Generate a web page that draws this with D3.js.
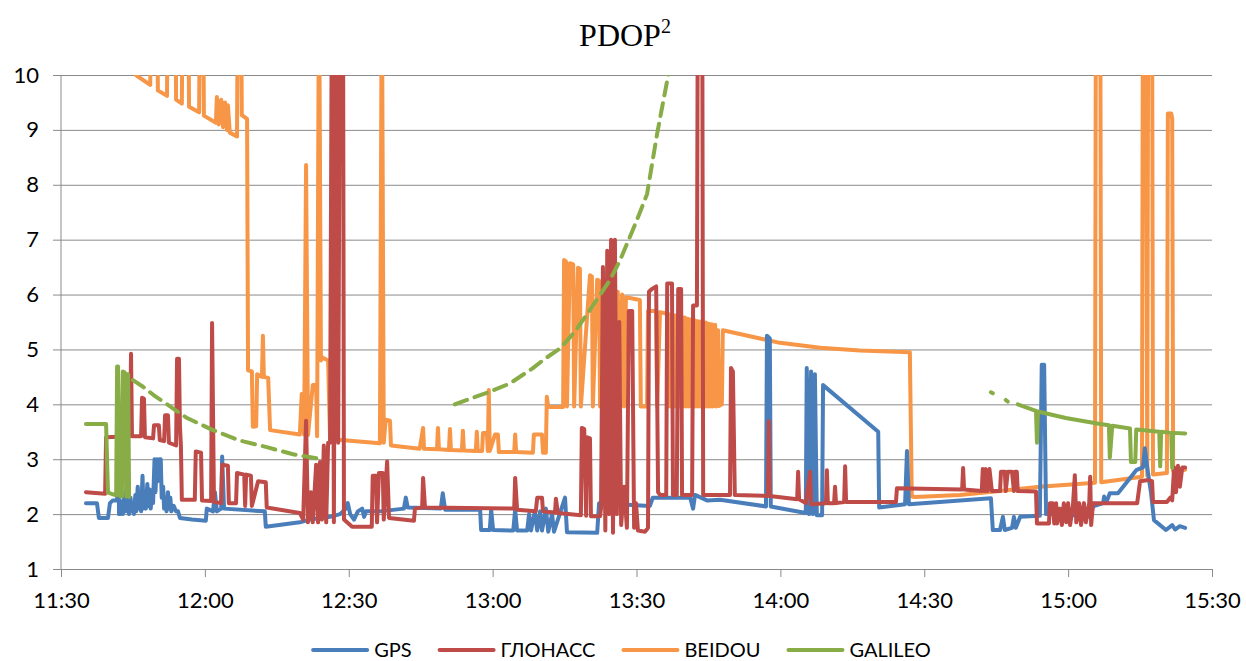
<!DOCTYPE html>
<html>
<head>
<meta charset="utf-8">
<script src="https://cdn.jsdelivr.net/npm/d3@7"></script>
<style>
  body { margin: 0; background: #fff; }
  svg text { font-family: Lato, "Open Sans", sans-serif; fill: #000; }
</style>
</head>
<body>
<svg id="chart" width="1246" height="661"></svg>
<script>
// time is "H:MM.m" (minutes with one decimal), value is PDOP^2
// values above 10 run off the top of the plot and get clipped
var gps = [
  ["11:35.2",2.20],["11:37.5",2.20],["11:37.9",1.93],["11:39.8",1.93],["11:40.2",2.20],["11:40.8",2.25],
  ["11:41.7",2.25],["11:41.9",3.70],["11:42.1",2.00],["11:42.3",2.25],["11:42.5",2.00],["11:42.7",2.15],
  ["11:42.9",2.00],["11:43.2",2.35],["11:43.4",2.05],["11:43.6",2.45],["11:43.8",2.05],["11:44.0",2.25],
  ["11:44.2",2.00],["11:44.5",2.30],["11:44.7",2.05],["11:45.0",2.15],["11:45.2",2.00],["11:45.5",2.35],
  ["11:45.7",2.05],["11:46.0",2.50],["11:46.2",2.10],["11:46.5",2.25],["11:46.7",2.05],["11:47.0",2.70],
  ["11:47.2",2.10],["11:47.5",2.40],["11:47.7",2.10],["11:48.0",2.55],["11:48.2",2.15],["11:48.5",2.45],
  ["11:48.7",2.10],["11:49.0",2.35],["11:49.2",2.20],["11:49.5",3.00],["11:49.7",2.40],["11:50.0",3.00],
  ["11:50.2",2.60],["11:50.5",3.00],["11:50.8",3.00],["11:51.0",2.30],["11:51.3",2.50],["11:51.5",2.10],
  ["11:51.8",2.30],["11:52.0",2.05],["11:52.3",2.40],["11:52.5",2.10],["11:52.8",2.30],["11:53.0",2.05],
  ["11:53.5",2.15],["11:54.0",2.05],["11:54.4",2.05],["11:54.8",1.93],["11:57.3",1.90],["12:00.2",1.88],
  ["12:00.4",2.10],["12:01.7",2.05],["12:02.1",2.40],["12:02.5",2.05],["12:03.4",2.10],["12:03.6",3.05],
  ["12:04.0",2.10],["12:12.5",2.05],["12:12.7",1.77],["12:19.8",1.85],["12:21.9",1.90],["12:26.1",1.95],
  ["12:28.2",2.00],["12:29.4",2.10],["12:29.8",2.20],["12:30.3",2.00],["12:31.1",1.90],["12:31.9",2.05],
  ["12:32.8",2.10],["12:33.2",1.95],["12:33.6",2.05],["12:36.5",2.05],["12:41.5",2.10],["12:41.9",2.30],
  ["12:42.3",2.12],["12:49.2",2.10],["12:49.6",2.38],["12:50.1",2.08],["12:57.4",2.08],["12:57.6",1.71],
  ["12:59.4",1.71],["12:59.7",2.08],["13:00.1",1.71],["13:04.3",1.70],["13:04.7",2.08],["13:05.1",1.70],
  ["13:07.2",1.70],["13:07.6",2.00],["13:08.0",1.70],["13:08.8",2.05],["13:09.3",1.70],["13:09.9",2.05],
  ["13:10.3",1.70],["13:11.1",2.10],["13:11.6",1.68],["13:12.4",2.00],["13:12.8",1.68],["13:15.1",2.30],
  ["13:15.5",1.67],["13:21.8",1.66],["13:22.2",2.20],["13:32.8",2.15],["13:33.4",2.30],["13:41.2",2.30],
  ["13:41.8",2.10],["13:42.2",2.35],["13:44.7",2.25],["13:47.4",2.26],["13:57.0",2.14],["13:57.2",5.25],
  ["13:57.8",5.20],["13:58.0",2.14],["14:05.3",2.02],["14:05.5",4.66],["14:06.0",2.00],["14:06.4",4.60],
  ["14:06.8",2.00],["14:07.2",4.55],["14:07.6",1.98],["14:08.7",1.98],["14:08.9",4.35],["14:20.4",3.50],
  ["14:20.6",2.12],["14:26.0",2.18],["14:26.4",3.15],["14:26.8",2.18],["14:43.9",2.29],["14:44.3",1.71],
  ["14:45.8",1.71],["14:46.4",1.95],["14:46.8",1.71],["14:48.3",1.75],["14:48.7",1.95],["14:49.1",1.75],
  ["14:50.0",1.95],["14:54.1",1.97],["14:54.5",4.72],["14:55.0",4.72],["14:55.4",2.00],["14:58.3",2.00],
  ["15:04.6",1.95],["15:05.2",2.14],["15:07.3",2.20],["15:07.5",2.32],["15:07.9",2.20],["15:08.7",2.38],
  ["15:10.4",2.38],["15:14.2",2.80],["15:15.6",2.85],["15:16.0",3.20],["15:16.5",2.85],["15:17.3",2.38],
  ["15:17.9",1.89],["15:20.4",1.71],["15:21.7",1.80],["15:22.3",1.72],["15:23.3",1.78],["15:24.4",1.75]
];

var glonass = [
  ["11:35.2",2.40],["11:39.2",2.37],["11:39.4",3.40],["11:44.4",3.42],["11:44.6",4.92],["11:44.8",3.42],
  ["11:46.7",3.42],["11:46.9",4.12],["11:47.3",4.10],["11:47.5",3.40],["11:49.2",3.38],["11:49.4",3.62],
  ["11:50.4",3.62],["11:50.6",3.35],["11:51.5",3.33],["11:51.7",3.80],["11:52.3",3.80],["11:52.5",3.30],
  ["11:54.0",3.25],["11:54.2",4.83],["11:54.6",4.83],["11:54.8",3.60],["11:55.0",3.25],["11:55.2",2.26],
  ["11:57.9",2.26],["11:58.1",3.14],["11:59.2",3.12],["11:59.4",2.25],["12:01.3",2.24],["12:01.5",5.48],
  ["12:01.9",2.22],["12:03.4",2.20],["12:03.6",2.90],["12:04.8",2.88],["12:05.0",2.20],["12:06.5",2.20],
  ["12:06.7",2.75],["12:08.2",2.72],["12:08.4",2.15],["12:08.6",2.72],["12:09.6",2.70],["12:09.8",2.15],
  ["12:11.1",2.60],["12:12.7",2.58],["12:12.9",2.12],["12:19.8",2.02],["12:20.5",1.90],["12:21.1",3.70],
  ["12:21.5",1.85],["12:22.1",2.40],["12:22.5",1.85],["12:23.2",2.90],["12:23.6",1.85],["12:24.0",2.95],
  ["12:24.4",1.90],["12:24.8",3.25],["12:25.3",1.85],["12:25.7",3.30],["12:26.1",3.30],["12:26.5",12],
  ["12:26.9",1.85],["12:27.3",12],["12:27.8",3.30],["12:28.2",12],["12:28.8",12],["12:29.0",1.90],
  ["12:30.7",1.77],["12:34.8",1.77],["12:35.0",2.70],["12:35.7",2.70],["12:35.9",1.85],["12:36.3",2.75],
  ["12:37.1",2.75],["12:37.3",1.90],["12:38.0",2.96],["12:38.4",1.93],["12:43.6",1.88],["12:43.8",2.10],
  ["12:45.3",2.12],["12:45.5",2.66],["12:45.9",2.12],["13:04.5",2.10],["13:04.7",2.66],["13:05.1",2.08],
  ["13:09.0",2.05],["13:09.3",2.30],["13:10.3",2.30],["13:10.5",2.05],["13:13.0",2.03],["13:13.2",2.28],
  ["13:13.6",2.02],["13:18.4",1.98],["13:18.6",3.57],["13:19.1",3.55],["13:19.5",1.97],["13:19.7",3.40],
  ["13:20.3",3.38],["13:20.5",1.96],["13:22.4",1.96],["13:22.6",2.10],["13:23.0",6.50],["13:23.5",1.70],
  ["13:23.9",6.80],["13:24.3",2.00],["13:24.7",7.00],["13:25.1",1.66],["13:25.5",7.00],["13:25.9",2.00],
  ["13:26.4",5.50],["13:26.8",1.80],["13:27.4",2.50],["13:28.0",1.75],["13:28.4",5.70],["13:29.1",5.70],
  ["13:29.5",1.75],["13:29.9",2.20],["13:30.3",1.70],["13:31.8",1.68],["13:32.4",1.75],["13:32.6",6.05],
  ["13:33.2",6.10],["13:34.1",6.15],["13:34.5",2.40],["13:34.9",2.35],["13:36.2",2.35],["13:36.4",6.20],
  ["13:37.4",6.20],["13:37.6",2.35],["13:38.4",2.35],["13:38.7",6.10],["13:39.3",6.10],["13:39.5",2.35],
  ["13:41.6",2.35],["13:41.8",5.80],["13:42.6",5.80],["13:42.8",12],["13:43.7",12],["13:43.9",2.35],
  ["13:49.5",2.35],["13:49.7",4.66],["13:50.1",4.60],["13:50.5",2.35],["13:57.4",2.33],["13:57.6",3.69],
  ["13:57.8",2.33],["14:03.5",2.27],["14:03.7",2.77],["14:03.9",2.27],["14:05.3",2.20],["14:06.2",2.77],
  ["14:06.4",2.18],["14:09.5",2.20],["14:09.7",2.80],["14:09.9",2.20],["14:11.2",2.20],["14:11.4",2.50],
  ["14:11.6",2.20],["14:13.3",2.22],["14:13.5",2.87],["14:13.7",2.22],["14:24.1",2.22],["14:24.3",2.47],
  ["14:37.9",2.45],["14:38.1",2.84],["14:38.3",2.45],["14:42.0",2.42],["14:42.2",2.82],["14:42.6",2.42],
  ["14:42.8",2.82],["14:43.2",2.42],["14:43.6",2.82],["14:44.1",2.42],["14:45.8",2.42],["14:46.0",2.77],
  ["14:46.8",2.77],["14:47.0",2.42],["14:47.4",2.77],["14:48.3",2.77],["14:48.7",2.42],["14:48.9",2.77],
  ["14:49.3",2.77],["14:49.5",2.42],["14:53.3",2.41],["14:53.5",1.83],["14:56.0",1.83],["14:56.2",2.20],
  ["14:56.8",2.20],["14:57.1",1.83],["14:57.5",2.20],["14:57.7",1.83],["14:58.3",2.10],["14:58.7",1.80],
  ["14:59.1",2.20],["14:59.6",1.85],["15:00.0",2.20],["15:00.4",1.80],["15:01.0",2.15],["15:01.4",2.71],
  ["15:01.7",1.85],["15:02.3",2.20],["15:02.7",1.80],["15:03.3",2.20],["15:03.7",1.85],["15:04.4",2.20],
  ["15:04.6",2.68],["15:04.8",1.80],["15:05.2",2.20],["15:14.4",2.20],["15:15.0",2.60],["15:16.7",2.62],
  ["15:17.5",2.60],["15:17.7",2.22],["15:20.6",2.22],["15:21.3",2.30],["15:21.7",2.25],["15:22.1",2.85],
  ["15:22.5",2.40],["15:22.9",2.88],["15:23.3",2.50],["15:23.8",2.85],["15:24.4",2.85]
];

var beidou = [
  ["11:45.6",10.0],["11:48.6",9.82],["11:49.0",12],["11:50.0",12],["11:50.2",9.72],["11:52.1",9.62],
  ["11:52.3",12],["11:53.8",12],["11:54.0",9.55],["11:55.2",9.48],["11:55.4",12],["11:56.5",12],
  ["11:56.7",9.42],["11:58.8",9.32],["11:59.0",12],["11:59.6",12],["11:59.8",9.26],["12:02.3",9.13],
  ["12:02.5",9.60],["12:02.9",9.10],["12:03.4",9.55],["12:03.8",9.05],["12:04.2",9.50],["12:04.6",9.00],
  ["12:04.8",9.45],["12:05.2",8.95],["12:06.7",8.88],["12:06.9",12],["12:07.5",12],["12:07.7",9.27],
  ["12:08.8",9.20],["12:09.0",4.62],["12:09.8",4.60],["12:10.0",3.59],["12:10.7",3.60],["12:10.9",4.55],
  ["12:11.9",4.50],["12:12.1",5.25],["12:12.3",4.50],["12:13.2",4.48],["12:13.6",3.53],["12:19.8",3.45],
  ["12:20.2",4.19],["12:20.7",3.45],["12:21.1",8.36],["12:21.5",3.44],["12:22.5",4.35],["12:23.2",4.35],
  ["12:23.4",3.42],["12:23.8",12],["12:24.2",4.80],["12:24.6",4.85],["12:25.7",4.80],["12:26.1",3.40],
  ["12:26.7",4.60],["12:27.1",3.36],["12:36.5",3.29],["12:36.9",12],["12:37.3",3.30],["12:37.7",3.72],
  ["12:38.6",3.70],["12:38.8",3.25],["12:44.8",3.19],["12:45.5",3.57],["12:45.7",3.19],["12:48.4",3.18],
  ["12:48.6",3.57],["12:48.8",3.18],["12:50.9",3.17],["12:51.1",3.55],["12:51.3",3.17],["12:53.6",3.16],
  ["12:53.8",3.52],["12:54.0",3.16],["12:56.5",3.15],["12:56.7",3.50],["12:56.9",3.15],["12:57.8",3.15],
  ["12:58.0",3.48],["12:58.8",3.48],["12:59.0",3.15],["12:59.2",4.26],["12:59.4",3.15],["13:00.5",3.45],
  ["13:01.1",3.45],["13:01.3",3.13],["13:04.5",3.13],["13:04.7",3.45],["13:04.9",3.13],["13:08.4",3.12],
  ["13:08.6",3.45],["13:10.3",3.45],["13:10.5",3.12],["13:11.1",3.12],["13:11.3",4.14],["13:11.6",3.95],
  ["13:14.7",3.95],["13:14.9",6.63],["13:15.3",6.60],["13:15.5",3.96],["13:16.1",6.57],["13:16.8",6.55],
  ["13:17.0",3.96],["13:17.8",6.49],["13:18.2",6.47],["13:18.4",3.96],["13:20.3",6.35],["13:20.7",6.33],
  ["13:20.9",3.96],["13:21.8",6.27],["13:22.2",6.25],["13:22.4",3.96],["13:23.0",6.17],["13:23.9",6.15],
  ["13:24.1",3.96],["13:24.5",6.10],["13:26.1",6.05],["13:26.3",3.96],["13:27.0",6.00],["13:27.4",3.96],
  ["13:27.8",5.95],["13:30.7",5.90],["13:30.9",3.96],["13:32.2",3.96],["13:32.4",5.70],["13:34.1",5.70],
  ["13:34.3",3.96],["13:34.9",5.68],["13:36.4",5.65],["13:36.6",3.96],["13:37.0",5.64],["13:37.2",3.96],
  ["13:37.6",5.63],["13:37.8",3.96],["13:38.2",5.62],["13:38.4",3.96],["13:38.9",5.60],["13:39.1",3.96],
  ["13:39.5",5.59],["13:39.7",3.96],["13:40.1",5.58],["13:40.3",3.96],["13:40.7",5.56],["13:40.9",3.96],
  ["13:41.4",5.55],["13:41.6",3.96],["13:42.0",5.54],["13:42.2",3.96],["13:42.6",5.52],["13:42.8",3.96],
  ["13:43.2",5.51],["13:43.4",3.96],["13:43.9",5.50],["13:44.1",3.96],["13:44.5",5.49],["13:44.7",3.96],
  ["13:45.1",5.47],["13:45.3",3.96],["13:45.7",5.46],["13:45.9",3.96],["13:46.4",5.45],["13:46.6",3.96],
  ["13:47.0",5.35],["13:47.2",3.97],["13:47.8",4.00],["13:48.0",5.35],["13:59.9",5.12],["14:08.3",5.03],
  ["14:16.6",4.98],["14:27.0",4.95],["14:27.4",2.32],["14:28.1",2.31],["14:37.4",2.35],["14:45.8",2.42],
  ["14:54.1",2.50],["15:05.6",2.57],["15:05.8",12],["15:06.7",12],["15:06.9",2.58],["15:15.4",2.68],
  ["15:15.6",12],["15:16.2",12],["15:16.5",2.70],["15:16.7",12],["15:17.5",12],["15:17.7",2.72],
  ["15:20.6",2.75],["15:20.8",9.30],["15:21.5",9.30],["15:21.7",9.20],["15:21.9",2.78],["15:24.4",2.81]
];

// GALILEO: continuous stretches, null = no data
var galileo = [
  ["11:35.2",3.64],["11:39.4",3.64],["11:39.8",2.39],["11:41.5",2.34],["11:41.7",4.69],["11:41.9",4.69],
  ["11:42.3",2.33],["11:42.7",2.32],["11:42.9",4.60],["11:43.3",4.58],["11:43.6",2.32],["11:43.8",4.55],
  ["11:44.0",4.55],["11:44.2",2.31],["11:44.3",null],
  ["14:43.9",4.22],["14:44.3",4.20],["14:44.5",null],["14:47.0",4.08],["14:47.4",4.05],["14:47.6",null],
  ["14:49.5",4.00],["14:52.7",3.90],["14:53.3",3.88],["14:53.5",3.30],["14:53.7",3.87],["14:59.5",3.75],
  ["15:06.7",3.64],["15:08.5",3.62],["15:08.7",3.03],["15:09.2",3.61],["15:12.9",3.56],["15:13.1",2.95],
  ["15:14.0",2.95],["15:14.2",3.54],["15:19.0",3.50],["15:19.2",2.87],["15:19.4",3.50],["15:21.5",3.48],
  ["15:21.7",2.84],["15:21.9",3.48],["15:24.4",3.47]
];
// GALILEO stretches with frequent dropouts (drawn broken)
var galileoSparse = [
  ["11:45.0",4.44],["11:47.1",4.32],["11:49.6",4.15],["11:52.1",4.00],["11:56.3",3.75],["12:01.7",3.53],
  ["12:07.3",3.34],["12:12.9",3.22],["12:18.4",3.09],["12:24.4",3.00],["12:30.0",null],
  ["12:52.1",4.00],["12:59.4",4.23],["13:03.6",4.38],["13:08.4",4.66],["13:10.9",4.83],["13:14.1",5.02],
  ["13:17.2",5.33],["13:20.3",5.72],["13:24.5",6.27],["13:26.6",6.63],["13:30.1",7.36],["13:32.2",7.83],
  ["13:34.3",8.93],["13:36.4",9.90],["13:37.0",10.2]
];

var seriesNames = ["GPS", "ГЛОНАСС", "BEIDOU", "GALILEO"];
var seriesColors = ["#4A7EBB", "#BE4B48", "#F79646", "#88AC46"];
var xTickLabels = ["11:30", "12:00", "12:30", "13:00", "13:30", "14:00", "14:30", "15:00", "15:30"];
var yTicks = [1, 2, 3, 4, 5, 6, 7, 8, 9, 10];

function parseTime(s) {
    var p = s.split(":");
    return new Date(2000, 0, 1, +p[0], 0, 0, Math.round(+p[1] * 60000));
}

var svg = d3.select("#chart");
var plotLeft = 61, plotRight = 1212, plotTop = 75, plotBottom = 569;
var lineWidth = 4;

var x = d3.scaleTime()
    .domain([parseTime(xTickLabels[0]), parseTime(xTickLabels[xTickLabels.length - 1])])
    .range([plotLeft, plotRight]);
var y = d3.scaleLinear().domain([1, 10]).range([plotBottom, plotTop]);

// title
var title = svg.append("text")
    .attr("x", 625).attr("y", 46)
    .attr("text-anchor", "middle")
    .style("font-family", "'Liberation Serif', 'Times New Roman', serif")
    .style("font-size", "32px");
title.append("tspan").text("PDOP");
title.append("tspan").attr("dy", -13).style("font-size", "20px").text("2");

// gridlines + y axis
var yAxis = svg.append("g")
    .attr("transform", "translate(" + plotLeft + ",0)")
    .call(d3.axisLeft(y).tickValues(yTicks).tickFormat(d3.format("d"))
        .tickSize(8).tickPadding(14));
yAxis.selectAll(".tick line").attr("x2", plotRight - plotLeft).attr("x1", -8);
yAxis.select(".domain").attr("d", "M0," + plotTop + "V" + plotBottom);
yAxis.selectAll("line, path").attr("stroke", "#8a8a8a").attr("stroke-width", 1);
yAxis.selectAll("text").style("font-size", "22px").style("font-family", "Lato, sans-serif");

var xAxis = svg.append("g")
    .attr("transform", "translate(0," + plotBottom + ")")
    .call(d3.axisBottom(x).tickValues(xTickLabels.map(parseTime))
        .tickFormat(d3.timeFormat("%H:%M")).tickSize(8).tickPadding(15));
xAxis.select(".domain").remove();
xAxis.selectAll("line").attr("stroke", "#8a8a8a");
xAxis.selectAll("text").style("font-size", "22px").style("font-family", "Lato, sans-serif");

// lines
svg.append("clipPath").attr("id", "plotclip")
    .append("rect").attr("x", plotLeft - 5).attr("y", plotTop)
    .attr("width", plotRight - plotLeft + 10).attr("height", plotBottom - plotTop + 5);

var line = d3.line()
    .defined(function(d) { return d[1] != null; })
    .x(function(d) { return x(parseTime(d[0])); })
    .y(function(d) { return y(d[1]); });

var plot = svg.append("g").attr("clip-path", "url(#plotclip)");

function drawSeries(data, color, dash) {
    var p = plot.append("path")
        .datum(data)
        .attr("d", line)
        .attr("fill", "none")
        .attr("stroke", color)
        .attr("stroke-width", lineWidth)
        .attr("stroke-linejoin", "round")
        .attr("stroke-linecap", "round");
    if (dash) p.attr("stroke-dasharray", dash);
}

drawSeries(beidou, seriesColors[2]);
drawSeries(gps, seriesColors[0]);
drawSeries(glonass, seriesColors[1]);
drawSeries(galileo, seriesColors[3]);
drawSeries(galileoSparse, seriesColors[3], "13,8");

// legend
var legend = svg.append("g");
var lx = 0;
seriesNames.forEach(function(name, i) {
    var g = legend.append("g").attr("transform", "translate(" + lx + ",0)");
    g.append("line").attr("x1", 0).attr("x2", 54).attr("y1", 0).attr("y2", 0)
        .attr("stroke", seriesColors[i]).attr("stroke-width", lineWidth).attr("stroke-linecap", "round");
    var t = g.append("text").attr("x", 61).attr("y", 7)
        .style("font-size", "20px").text(name);
    lx += 61 + t.node().getComputedTextLength() + 28;
});
var legendWidth = lx - 28;
legend.attr("transform", "translate(" + (622 - legendWidth / 2) + ",650)");
</script>
</body>
</html>
